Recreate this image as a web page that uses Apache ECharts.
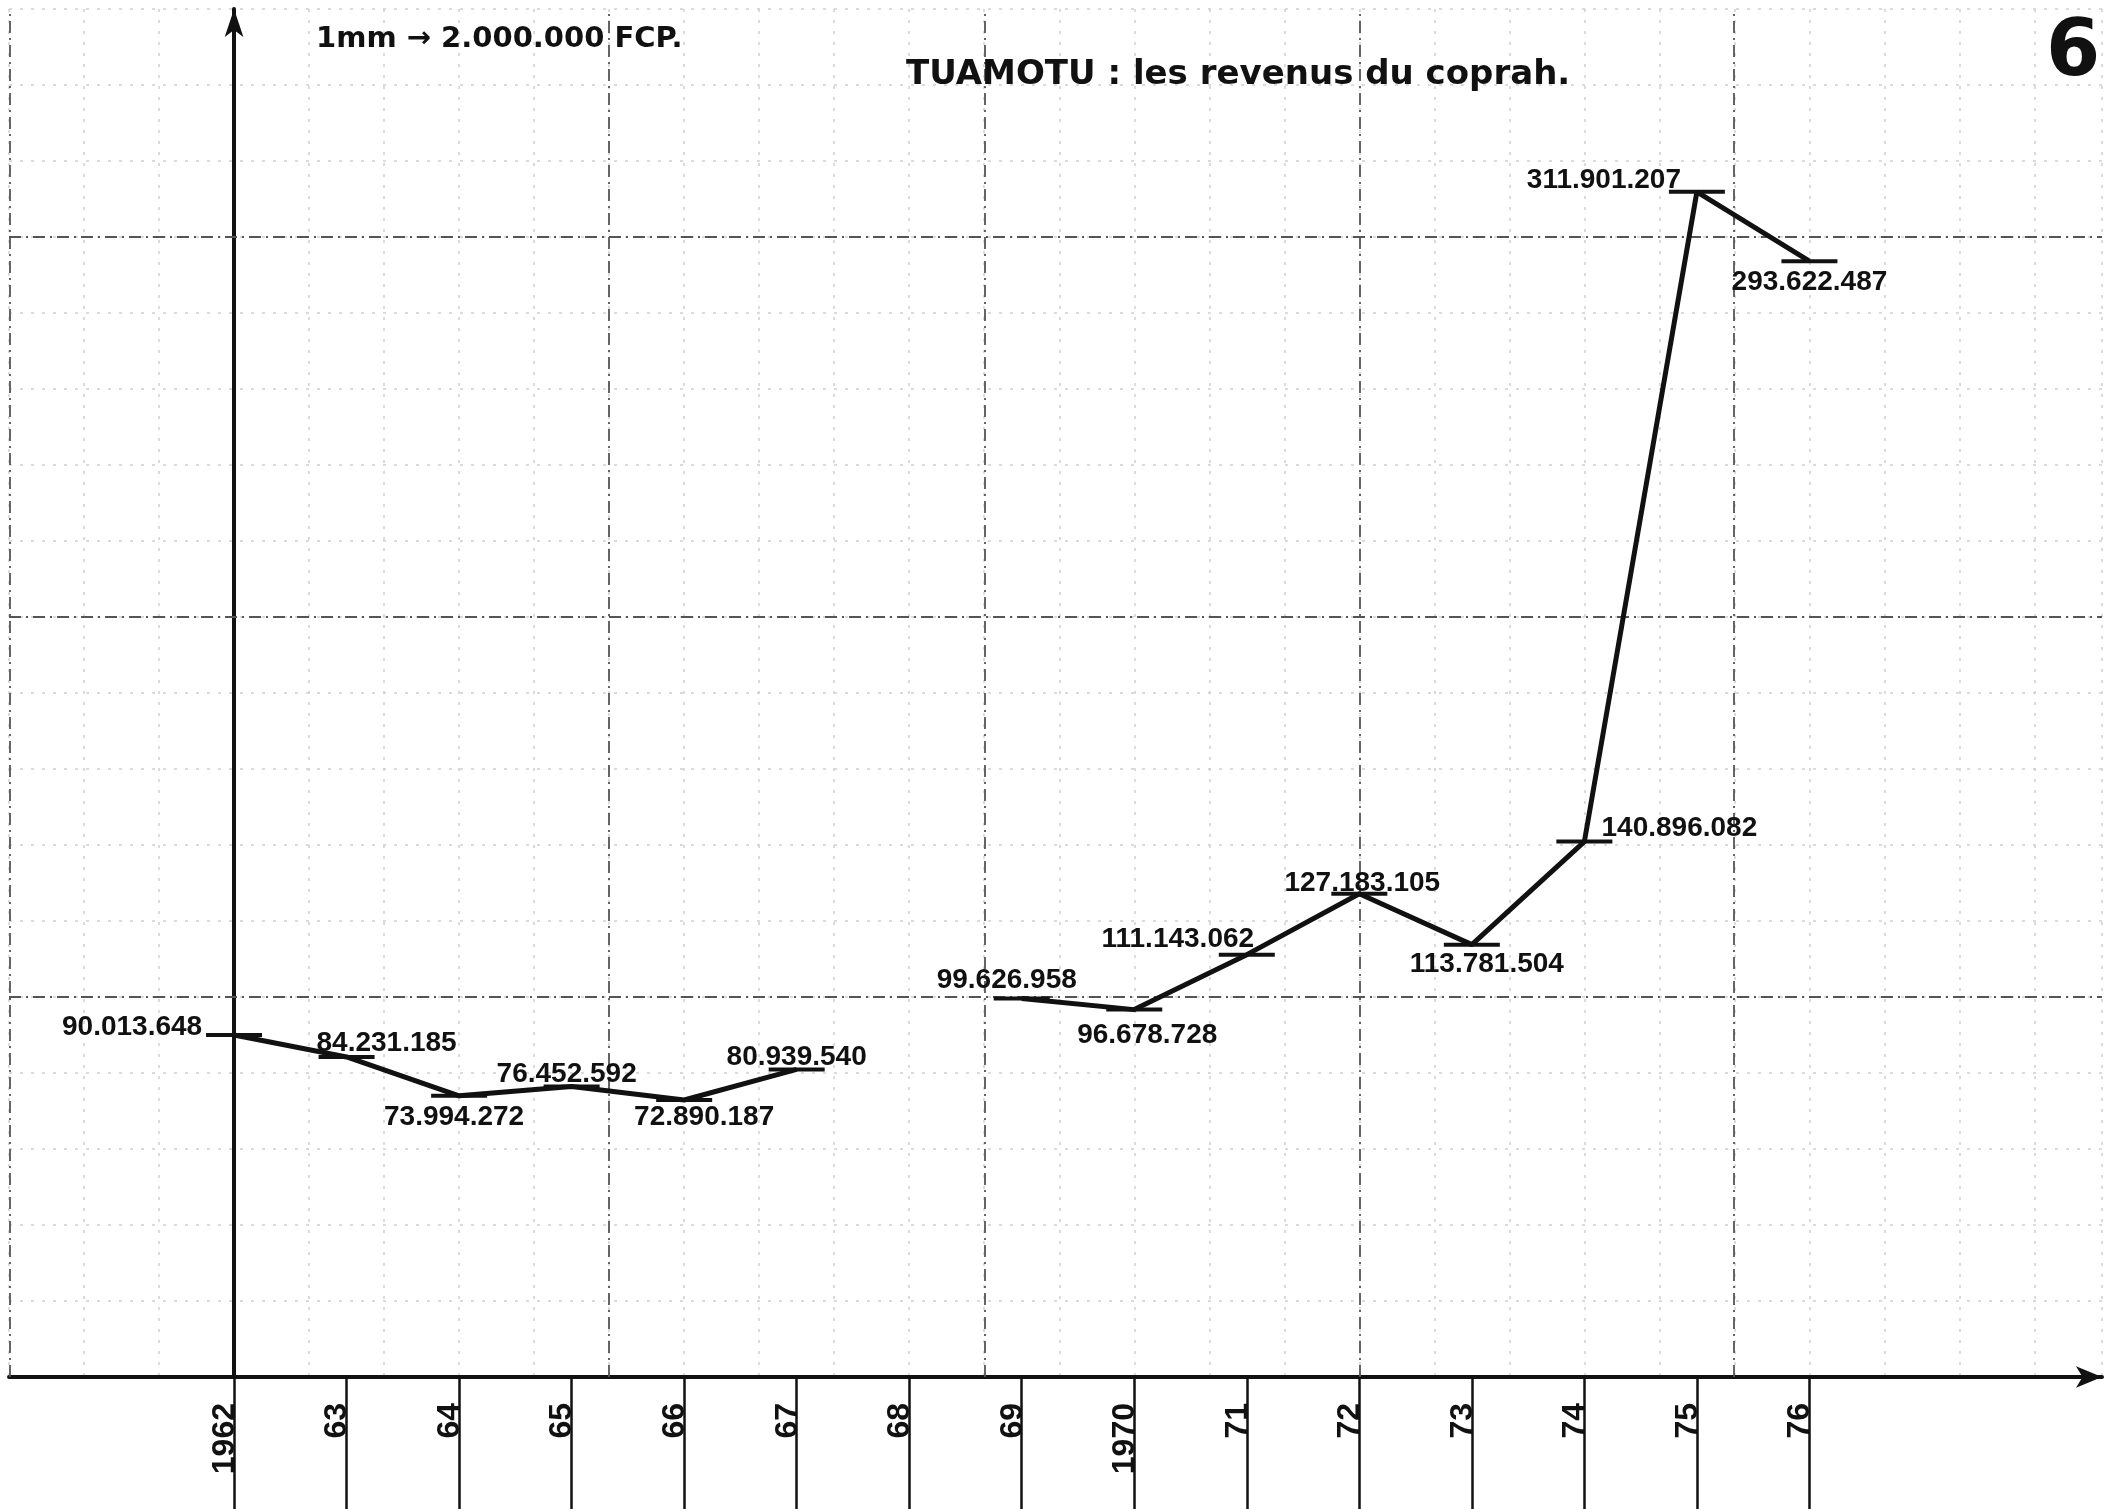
<!DOCTYPE html>
<html>
<head>
<meta charset="utf-8">
<script src="https://cdn.jsdelivr.net/npm/echarts@6/dist/echarts.min.js"></script>
<style>
html,body{margin:0;padding:0;background:#fff;}
#chart{width:2106px;height:1509px;}
</style>
</head>
<body>
<div id="chart"></div>
<script>
// ---- data ----
const years = ['1962','63','64','65','66','67','68','69','1970','71','72','73','74','75','76'];
const revenue = [90013648, 84231185, 73994272, 76452592, 72890187, 80939540, null, 99626958, 96678728, 111143062, 127183105, 113781504, 140896082, 311901207, 293622487];
const titleText = 'TUAMOTU : les revenus du coprah.';
const scaleText = '1mm \u2192 2.000.000 FCP.';
const pageNumber = '6';

// ---- layout (label placement relative to each point) ----
const labelOffsets = [[-102,-8],[40,-14],[-5,21],[-5,-12],[20,17],[0,-12],[0,0],[-15,-18],[13,26],[-69,-15],[3,-10],[15,20],[95,-13],[-93,-11],[0,21]];

const fmt = n => String(n).replace(/\B(?=(\d{3})+(?!\d))/g, '.');
const idx = years.map((_, i) => i);
const numFont = "'Liberation Sans', Arial, sans-serif";
const ink = '#111';

const seriesData = years.map((y, i) => ({
  value: [i, revenue[i] == null ? '-' : revenue[i]],
  label: { offset: labelOffsets[i] }
}));

const chart = echarts.init(document.getElementById('chart'), null, {renderer: 'canvas'});
chart.setOption({
  animation: false,
  backgroundColor: '#fff',
  title: [
    { text: titleText, left: 906, top: 58, padding: 0,
      textStyle: { fontFamily: "'DejaVu Sans', sans-serif", fontWeight: 'bold', fontSize: 34, color: ink } },
    { text: scaleText, left: 316, top: 25, padding: 0,
      textStyle: { fontFamily: "'DejaVu Sans', sans-serif", fontWeight: 'bold', fontSize: 29, color: ink } },
    { text: pageNumber, left: 2046, top: 16, padding: 0,
      textStyle: { fontFamily: "'DejaVu Sans', sans-serif", fontWeight: 'bold', fontSize: 78, color: ink } }
  ],
  grid: { left: 9, right: 4, top: 9, bottom: 132 },
  xAxis: [
    {
      type: 'value', min: -2, max: 16.6, position: 'bottom',
      axisLine: { show: true, onZero: false, symbol: ['none', 'arrow'], symbolSize: [16, 26],
        lineStyle: { color: ink, width: 4 } },
      axisTick: { show: true, customValues: idx, length: 132, inside: false,
        lineStyle: { color: ink, width: 2.5 } },
      axisLabel: { show: true, customValues: idx, rotate: 90, margin: 26,
        formatter: v => years[Math.round(v)] || '',
        fontFamily: numFont, fontWeight: 'bold', fontSize: 32, color: ink,
        verticalAlign: 'bottom', lineHeight: 18 },
      splitLine: { show: false }
    },
    {
      type: 'value', min: -2, max: 16.6, interval: 2/3, position: 'bottom',
      axisLine: { show: false }, axisTick: { show: false }, axisLabel: { show: false },
      splitLine: { show: true, lineStyle: { color: '#d0d0d0', width: 1.5, type: [3, 8] } }
    }
  ],
  yAxis: {
    type: 'value', min: 0, max: 360000000, interval: 20000000,
    axisLine: { show: true, onZero: true, onZeroAxisIndex: 0, symbol: ['none', 'arrow'], symbolSize: [14, 28],
      lineStyle: { color: ink, width: 4 } },
    axisTick: { show: false }, axisLabel: { show: false },
    splitLine: { show: true, lineStyle: { color: '#d0d0d0', width: 1.5, type: [3, 8] } }
  },
  series: [{
    type: 'line',
    xAxisIndex: 0, yAxisIndex: 0,
    data: seriesData,
    connectNulls: false,
    showAllSymbol: true,
    symbol: 'rect', symbolSize: [56, 4],
    itemStyle: { color: ink },
    lineStyle: { color: ink, width: 5 },
    label: { show: true, position: 'inside', formatter: p => fmt(p.value[1]),
      fontFamily: numFont, fontWeight: 'bold', fontSize: 28, color: ink },
    markLine: {
      silent: true, symbol: 'none', label: { show: false },
      lineStyle: { color: '#555', width: 1.8, type: [12, 5, 2, 5] },
      data: [
        { xAxis: -1.99 }, { xAxis: 10/3 }, { xAxis: 20/3 }, { xAxis: 10 }, { xAxis: 40/3 },
        { yAxis: 100000000 }, { yAxis: 200000000 }, { yAxis: 300000000 }
      ]
    },
    z: 5
  }]
});
</script>
</body>
</html>
